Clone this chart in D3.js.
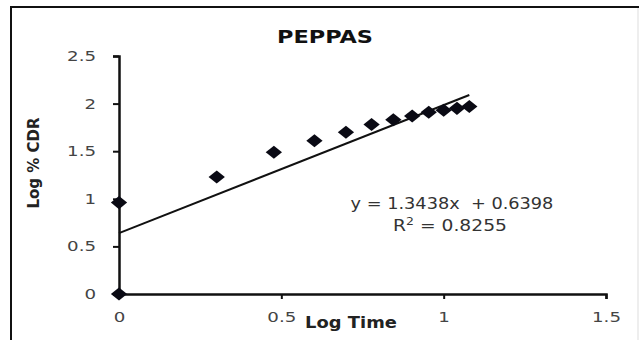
<!DOCTYPE html>
<html>
<head>
<meta charset="utf-8">
<script src="https://cdn.jsdelivr.net/npm/d3@7"></script>
<style>
  body { margin: 0; background: #fff; }
  text { font-family: "DejaVu Sans", Verdana, sans-serif; }
</style>
</head>
<body>
<div class="board"></div>
<script>
var width = 639, height = 340

// values
const logTime = [0, 0, 0.301, 0.477, 0.602, 0.699, 0.778, 0.845, 0.903, 0.954, 1.0, 1.041, 1.079]
const logCDR = [0, 0.96, 1.23, 1.49, 1.61, 1.70, 1.78, 1.83, 1.87, 1.91, 1.93, 1.95, 1.97]
const xTicks = [0, 0.5, 1, 1.5]
const yTicks = [0, 0.5, 1, 1.5, 2, 2.5]
const SLOPE = 1.3438
const INTERCEPT = 0.6398
const R2 = 0.8255

var svg = d3.select(".board")
    .append("svg")
    .attr("width", width)
    .attr("height", height)

// the picture is stretched sideways, so widen text to a given width
function stretchTo(sel, target) {
    sel.each(function () {
        let w = this.getBBox().width
        let k = target / w
        let g = d3.select(this)
        let tx = +g.attr("x") || 0
        g.attr("transform", `translate(${tx},0) scale(${k},1) translate(${-tx},0)`)
    })
}
function stretch(sel, k) {
    sel.each(function () {
        let w = this.getComputedTextLength()
        d3.select(this)
            .attr("textLength", w * k)
            .attr("lengthAdjust", "spacingAndGlyphs")
    })
}

// frame
svg.append("line").attr("x1", 10).attr("x2", 639).attr("y1", 7).attr("y2", 7)
    .attr("stroke", "#111").attr("stroke-width", 2)
svg.append("line").attr("x1", 11).attr("x2", 11).attr("y1", 6).attr("y2", 340)
    .attr("stroke", "#111").attr("stroke-width", 2)
svg.append("line").attr("x1", 638).attr("x2", 638).attr("y1", 8).attr("y2", 340)
    .attr("stroke", "#ddd").attr("stroke-width", 1)

let x = d3.scaleLinear().domain([0, 1.5]).range([119, 606])
let y = d3.scaleLinear().domain([0, 2.5]).range([294, 56])

let yAxis = svg.append("g")
    .attr("transform", `translate(${x(0)},0)`)
    .call(d3.axisLeft(y).tickValues(yTicks).tickFormat(d3.format("")).tickSize(6).tickPadding(17))
yAxis.select(".domain").attr("stroke", "#111").attr("stroke-width", 2.5)
yAxis.selectAll(".tick line").attr("stroke", "#111").attr("stroke-width", 2)
yAxis.selectAll(".tick text")
    .attr("fill", "#444").attr("font-size", 14)
    .call(stretch, 1.3)

let xAxis = svg.append("g")
    .attr("transform", `translate(0,${y(0)})`)
    .call(d3.axisBottom(x).tickValues(xTicks).tickFormat(d3.format("")).tickSize(5).tickPadding(13))
xAxis.select(".domain").attr("stroke", "#111").attr("stroke-width", 2.5)
xAxis.selectAll(".tick line").attr("stroke", "#111").attr("stroke-width", 2)
xAxis.selectAll(".tick text")
    .attr("fill", "#444").attr("font-size", 14)
    .call(stretch, 1.3)

// trendline
svg.append("line")
    .attr("x1", x(0)).attr("y1", y(INTERCEPT))
    .attr("x2", x(d3.max(logTime))).attr("y2", y(SLOPE * d3.max(logTime) + INTERCEPT))
    .attr("stroke", "#111").attr("stroke-width", 2)

// points
svg.append("g").selectAll("path")
    .data(logTime.map((t, i) => [t, logCDR[i]]))
    .enter()
    .append("path")
    .attr("d", d3.symbol(d3.symbolSquare, 85))
    .attr("transform", d => `translate(${x(d[0])},${y(d[1])}) scale(1.25,1) rotate(45)`)
    .attr("fill", "#0a0a14")

// texts
svg.append("text")
    .text("PEPPAS")
    .attr("x", 325).attr("y", 43)
    .attr("text-anchor", "middle")
    .attr("font-weight", "bold").attr("font-size", 18)
    .attr("font-family", "Liberation Sans, Arial, sans-serif")
    .attr("fill", "#111")
    .call(stretchTo, 96)

svg.append("text")
    .text("Log Time")
    .attr("x", 351).attr("y", 328)
    .attr("text-anchor", "middle")
    .attr("font-weight", "bold").attr("font-size", 16)
    .attr("font-family", "Liberation Sans, Arial, sans-serif")
    .attr("fill", "#222")
    .call(stretchTo, 92)

svg.append("text")
    .text("Log % CDR")
    .attr("transform", "translate(39,163) rotate(-90)")
    .attr("text-anchor", "middle")
    .attr("font-weight", "bold").attr("font-size", 15)
    .attr("font-family", "Liberation Sans, Arial, sans-serif")
    .attr("fill", "#222")

svg.append("text")
    .text(`y = ${SLOPE}x  + ${INTERCEPT}`)
    .attr("x", 452).attr("y", 209)
    .attr("text-anchor", "middle")
    .attr("font-size", 15)
    .attr("fill", "#333")
    .style("white-space", "pre")
    .call(stretchTo, 203)

let r2 = svg.append("text")
    .attr("x", 450).attr("y", 231)
    .attr("text-anchor", "middle")
    .attr("font-size", 15)
    .attr("fill", "#333")
r2.append("tspan").text("R")
r2.append("tspan").text("2").attr("font-size", 10).attr("dy", -6)
r2.append("tspan").text(` = ${R2}`).attr("dy", 6)
r2.call(stretchTo, 114)
</script>
</body>
</html>
